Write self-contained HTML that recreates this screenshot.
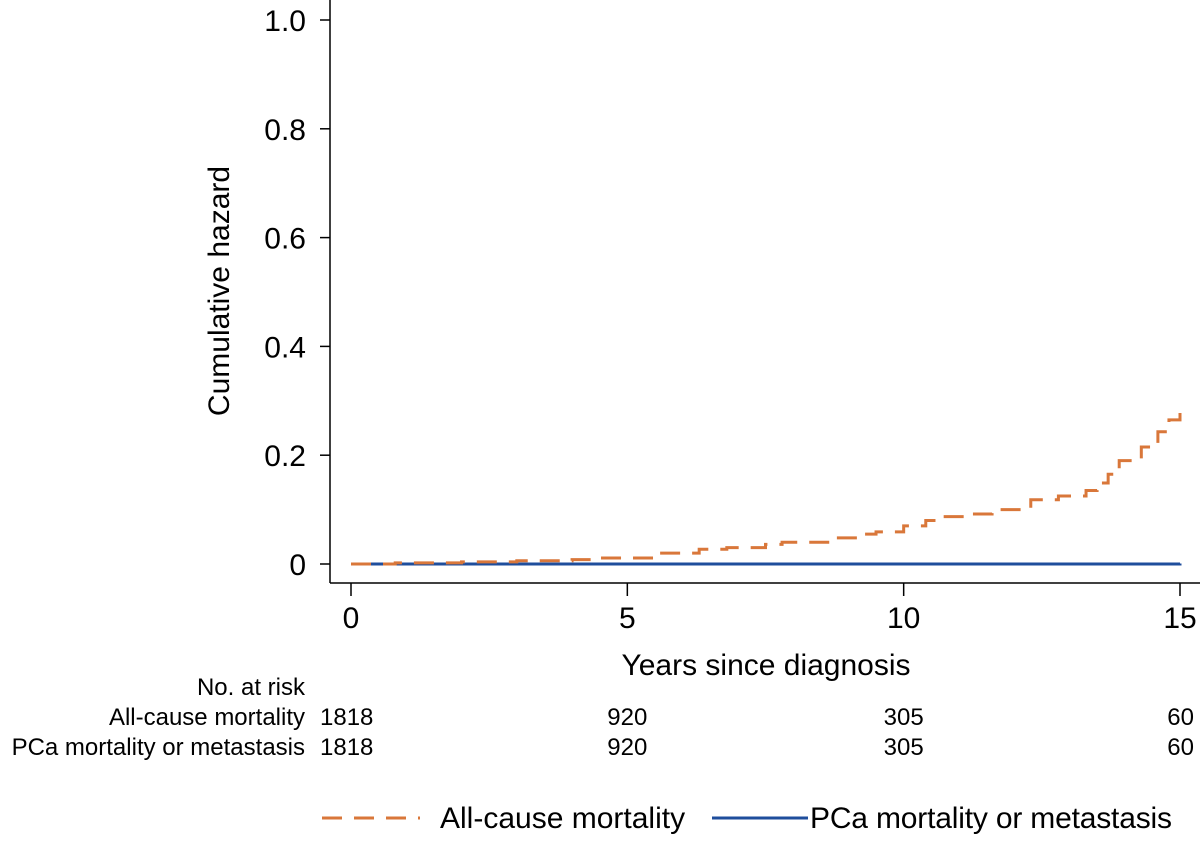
<!DOCTYPE html>
<html><head><meta charset="utf-8"><style>
body{margin:0;background:#fff;}
svg text{font-family:"Liberation Sans",sans-serif;fill:#000;}
</style></head><body>
<svg id="chart" width="1200" height="836">
<g id="axes"></g>
<g id="series"></g>
<text x="229" y="291" font-size="30" text-anchor="middle" transform="rotate(-90 229 291)">Cumulative hazard</text>
<text x="766" y="675" font-size="30" text-anchor="middle">Years since diagnosis</text>
<text x="305" y="695" font-size="24" text-anchor="end">No. at risk</text>
<text x="305" y="725" font-size="24" text-anchor="end">All-cause mortality</text>
<text x="305" y="755" font-size="24" text-anchor="end">PCa mortality or metastasis</text>
<g id="risk"></g>
<g>
<line x1="322" y1="818" x2="420" y2="818" stroke="#d9773a" stroke-width="3" stroke-dasharray="20,12"/>
<text x="440" y="828" font-size="30">All-cause mortality</text>
<line x1="712" y1="818" x2="808" y2="818" stroke="#1f4e9c" stroke-width="3"/>
<text x="810" y="828" font-size="30" textLength="362">PCa mortality or metastasis</text>
</g>
</svg>
<script>
const yTicks=[0,0.2,0.4,0.6,0.8,1.0];
const yTickLabels=["0","0.2","0.4","0.6","0.8","1.0"];
const xTicks=[0,5,10,15];
const allCauseT=[0,0.8,2,3,4,4.5,5.5,6.3,6.8,7.5,7.8,8.7,9.2,9.5,10,10.4,10.6,11.2,11.6,12.3,12.8,13.3,13.5,13.7,13.9,14.3,14.6,14.8,15];
const allCauseV=[0,0.002,0.004,0.006,0.008,0.011,0.02,0.027,0.03,0.036,0.04,0.048,0.055,0.059,0.07,0.08,0.087,0.092,0.1,0.118,0.125,0.135,0.149,0.165,0.19,0.215,0.243,0.265,0.287];
const pcaT=[0,15];
const pcaV=[0,0.001];
const riskTimes=[0,5,10,15];
const riskAllCause=[1818,920,305,60];
const riskPca=[1818,920,305,60];
const NS="http://www.w3.org/2000/svg";
const X=t=>351+t*(1180-351)/15;
const Y=v=>564-v*544;
function mk(tag,attrs,parent){const e=document.createElementNS(NS,tag);for(const k in attrs)e.setAttribute(k,attrs[k]);parent.appendChild(e);return e;}
const axes=document.getElementById('axes');
let l=mk('line',{x1:330,y1:0,x2:330,y2:583,stroke:'#000','stroke-width':1.5},axes);


l=mk('line',{x1:330,y1:583,x2:1200,y2:583,stroke:'#000','stroke-width':1.5},axes);


yTicks.forEach((v,i)=>{
 const t=mk('line',{x1:320,y1:Y(v),x2:330,y2:Y(v),stroke:'#000','stroke-width':1.5},axes);
 
 
 const tx=mk('text',{x:306,y:Y(v)+11,'font-size':30,'text-anchor':'end'},axes);
 tx.textContent=yTickLabels[i];
 
 
});
xTicks.forEach(v=>{
 const t=mk('line',{x1:X(v),y1:583,x2:X(v),y2:596,stroke:'#000','stroke-width':1.5},axes);
 
 
 const tx=mk('text',{x:X(v),y:628,'font-size':30,'text-anchor':'middle'},axes);
 tx.textContent=v;
 
 
});
function stepPath(T,V){let d='M'+X(T[0])+','+Y(V[0]);for(let i=1;i<T.length;i++){d+=' H'+X(T[i])+' V'+Y(V[i]);}return d;}
const s=document.getElementById('series');
let p=mk('path',{d:stepPath(pcaT,pcaV),fill:'none',stroke:'#1f4e9c','stroke-width':3},s);


p=mk('path',{d:stepPath(allCauseT,allCauseV),fill:'none',stroke:'#d9773a','stroke-width':3,'stroke-dasharray':'20,12'},s);


const r=document.getElementById('risk');
function row(vals,y,name){vals.forEach((v,i)=>{
 let anchor='middle',x=X(riskTimes[i]);
 if(i===0){anchor='start';x=320;} else if(i===vals.length-1){anchor='end';x=1194;}
 const tx=mk('text',{x:x,y:y,'font-size':24,'text-anchor':anchor},r);
 tx.textContent=v;
 
 
});}
row(riskAllCause,725,'risk-count-all-cause');
row(riskPca,755,'risk-count-pca');
</script>
</body></html>
